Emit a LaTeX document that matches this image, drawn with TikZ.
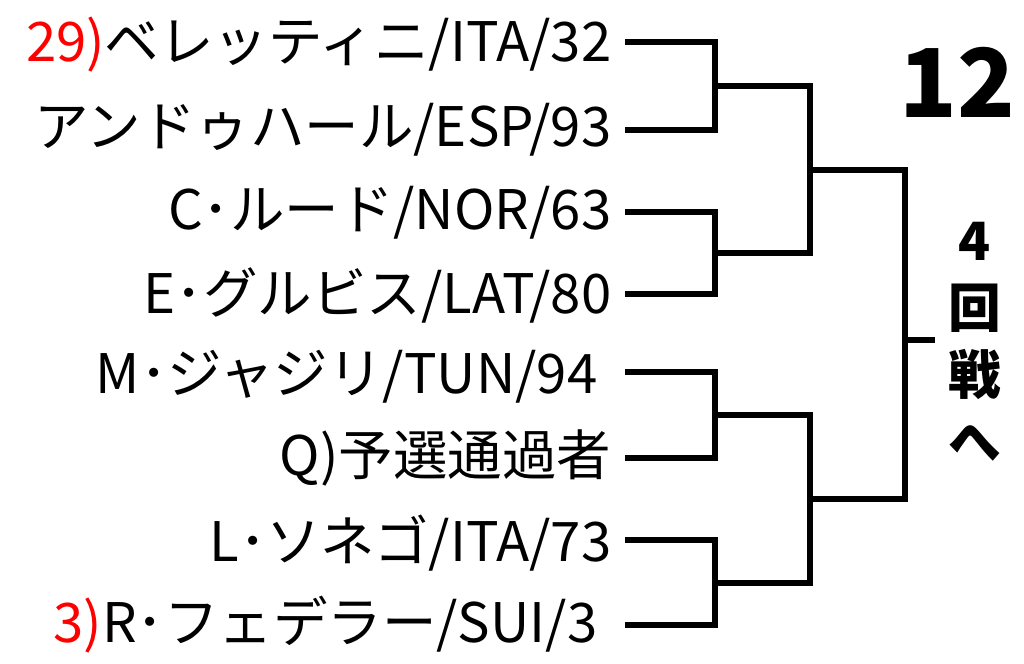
\documentclass[tikz,border=0pt]{standalone}
\usepackage{fontspec}
\setmainfont{Noto Sans CJK JP}
\begin{document}
\begin{tikzpicture}[x=0.01cm,y=-0.01cm,
  br/.style={line width=1.5pt,line join=miter},
  nm/.style={anchor=east,font=\fontsize{15.5pt}{18pt}\selectfont,inner sep=0pt}]
\useasboundingbox (0,0) rectangle (1024,663);
\node[nm] (p1) at (612,45) {\textcolor{red}{29)}ベレッティニ/ITA/32};
\node[nm] (p2) at (612,130) {アンドゥハール/ESP/93};
\node[nm] (p3) at (612,213) {C･ルード/NOR/63};
\node[nm] (p4) at (612,295) {E･グルビス/LAT/80};
\node[nm] (p5) at (598,377) {M･ジャジリ/TUN/94};
\node[nm] (p6) at (612,458) {Q)予選通過者};
\node[nm] (p7) at (612,543) {L･ソネゴ/ITA/73};
\node[nm] (p8) at (598,625) {\textcolor{red}{3)}R･フェデラー/SUI/3};
\draw[br] (625,42) -| (715,130) -- (625,130);
\draw[br] (625,212) -| (715,294) -- (625,294);
\draw[br] (625,372) -| (715,458) -- (625,458);
\draw[br] (625,540) -| (715,625) -- (625,625);
\draw[br] (715,86) -| (810,253) -- (715,253);
\draw[br] (715,415) -| (810,583) -- (715,583);
\draw[br] (810,170) -| (905,499) -- (810,499);
\draw[br] (905,340) -- (935,340);
\node[font=\fontsize{27pt}{30pt}\selectfont\bfseries] (n12) at (957,82) {12};
\node[font=\fontsize{15pt}{19pt}\selectfont\bfseries,align=center] (r4) at (975,342) {4\\回\\戦\\へ};
\end{tikzpicture}
\end{document}
